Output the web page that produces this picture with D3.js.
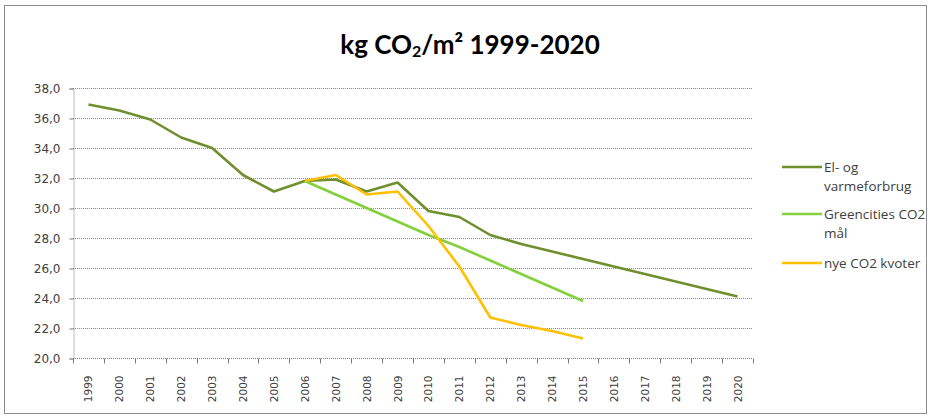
<!DOCTYPE html>
<html>
<head>
<meta charset="utf-8">
<script src="https://cdn.jsdelivr.net/npm/d3@7"></script>
<style>
  body { margin: 0; background: #fff; }
  svg { display: block; }
</style>
</head>
<body>
<svg id="chart" width="931" height="419"></svg>
<script>
// data
var years = ["1999","2000","2001","2002","2003","2004","2005","2006","2007","2008","2009",
             "2010","2011","2012","2013","2014","2015","2016","2017","2018","2019","2020"];
var elVarme = [36.9, 36.5, 35.9, 34.7, 34.0, 32.2, 31.1, 31.8, 31.9, 31.1, 31.7,
               29.8, 29.4, 28.2, 27.6, 27.1, 26.6, 26.1, 25.6, 25.1, 24.6, 24.1];
var greencities = [null, null, null, null, null, null, null, 31.8, 30.9, 30.0, 29.1,
                   28.2, 27.4, 26.5, 25.6, 24.7, 23.8, null, null, null, null, null];
var nyeKvoter = [null, null, null, null, null, null, null, 31.8, 32.2, 30.9, 31.1,
                 28.8, 26.1, 22.7, 22.2, 21.8, 21.3, null, null, null, null, null];
var yTicks = [20, 22, 24, 26, 28, 30, 32, 34, 36, 38];

var series = [
  { name: ["El- og", "varmeforbrug"], values: elVarme, color: "#6f8f2e" },
  { name: ["Greencities CO2", "mål"], values: greencities, color: "#84d03c" },
  { name: ["nye CO2 kvoter"], values: nyeKvoter, color: "#ffc000" }
];

var svg = d3.select("#chart");

// outer frame
svg.append("rect")
  .attr("x", 4.5).attr("y", 5.5)
  .attr("width", 922).attr("height", 408)
  .attr("fill", "none").attr("stroke", "#8c8c8c").attr("stroke-width", 1);

// title
var title = svg.append("text")
  .attr("x", 470).attr("y", 54)
  .attr("text-anchor", "middle")
  .attr("font-family", "Lato, 'Open Sans', sans-serif")
  .attr("font-weight", "bold")
  .attr("font-size", 26)
  .attr("fill", "#000");
title.append("tspan").text("kg CO");
title.append("tspan").attr("font-size", 16).attr("dy", 3).text("2");
title.append("tspan").attr("dy", -3).text("/m² 1999-2020");

var plotLeft = 73, plotRight = 753, plotTop = 88, plotBottom = 358;

var x = d3.scaleBand().domain(years).range([plotLeft, plotRight]);
var y = d3.scaleLinear().domain([20, 38]).range([plotBottom, plotTop]);

// gridlines
svg.append("g")
  .selectAll("line")
  .data(yTicks.slice(1))
  .join("line")
  .attr("x1", plotLeft).attr("x2", plotRight)
  .attr("y1", function(d) { return Math.round(y(d)) + 0.5; })
  .attr("y2", function(d) { return Math.round(y(d)) + 0.5; })
  .attr("stroke", "#8a8a8a")
  .attr("stroke-dasharray", "1,1");

// y axis
var yAxis = svg.append("g")
  .attr("transform", "translate(" + (plotLeft + 0.5) + ",0.5)")
  .call(d3.axisLeft(y).tickValues(yTicks).tickSize(4)
    .tickFormat(function(d) { return d3.format(".1f")(d).replace(".", ","); }));
yAxis.select(".domain").attr("stroke", "#7a7a7a").attr("stroke-dasharray", "1,1");
yAxis.selectAll(".tick line").attr("stroke", "#7a7a7a");
yAxis.selectAll("text")
  .attr("font-family", "'DejaVu Sans', Verdana, sans-serif")
  .attr("font-size", 12)
  .attr("fill", "#404040")
  .attr("x", -13);

// x axis: ticks between categories
var xAxis = svg.append("g").attr("transform", "translate(0," + (plotBottom + 0.5) + ")");
xAxis.append("line")
  .attr("x1", plotLeft).attr("x2", plotRight)
  .attr("stroke", "#7a7a7a").attr("stroke-dasharray", "1,1");
xAxis.selectAll("line.tk")
  .data(years.concat(["end"]))
  .join("line")
  .attr("class", "tk")
  .attr("x1", function(d, i) { return Math.round(plotLeft + i * x.step()) + 0.5; })
  .attr("x2", function(d, i) { return Math.round(plotLeft + i * x.step()) + 0.5; })
  .attr("y1", 0).attr("y2", 5)
  .attr("stroke", "#7a7a7a");
xAxis.selectAll("text")
  .data(years)
  .join("text")
  .attr("transform", function(d) {
    return "translate(" + (x(d) + x.bandwidth() / 2 + 4) + ",17) rotate(-90)";
  })
  .attr("text-anchor", "end")
  .attr("font-family", "'DejaVu Sans', Verdana, sans-serif")
  .attr("font-size", 10.5)
  .attr("fill", "#404040")
  .text(function(d) { return d; });

// lines
var line = d3.line()
  .defined(function(d) { return d.v != null; })
  .x(function(d) { return x(d.year) + x.bandwidth() / 2; })
  .y(function(d) { return y(d.v); });

svg.append("g")
  .selectAll("path")
  .data(series)
  .join("path")
  .attr("d", function(s) {
    return line(s.values.map(function(v, i) { return { year: years[i], v: v }; }));
  })
  .attr("fill", "none")
  .attr("stroke", function(s) { return s.color; })
  .attr("stroke-width", 2.6)
  .attr("stroke-linejoin", "round");

// legend
var legendY = [167, 214, 263];
var legend = svg.append("g")
  .selectAll("g")
  .data(series)
  .join("g")
  .attr("transform", function(s, i) { return "translate(782," + legendY[i] + ")"; });
legend.append("line")
  .attr("x1", 0).attr("x2", 40)
  .attr("stroke", function(s) { return s.color; })
  .attr("stroke-width", 2.6);
legend.append("text")
  .attr("font-family", "'Open Sans', Lato, sans-serif")
  .attr("font-size", 13.5)
  .attr("fill", "#404040")
  .selectAll("tspan")
  .data(function(s) { return s.name; })
  .join("tspan")
  .attr("x", 42)
  .attr("y", function(d, i) { return 5 + i * 19; })
  .text(function(d) { return d; });
</script>
</body>
</html>
